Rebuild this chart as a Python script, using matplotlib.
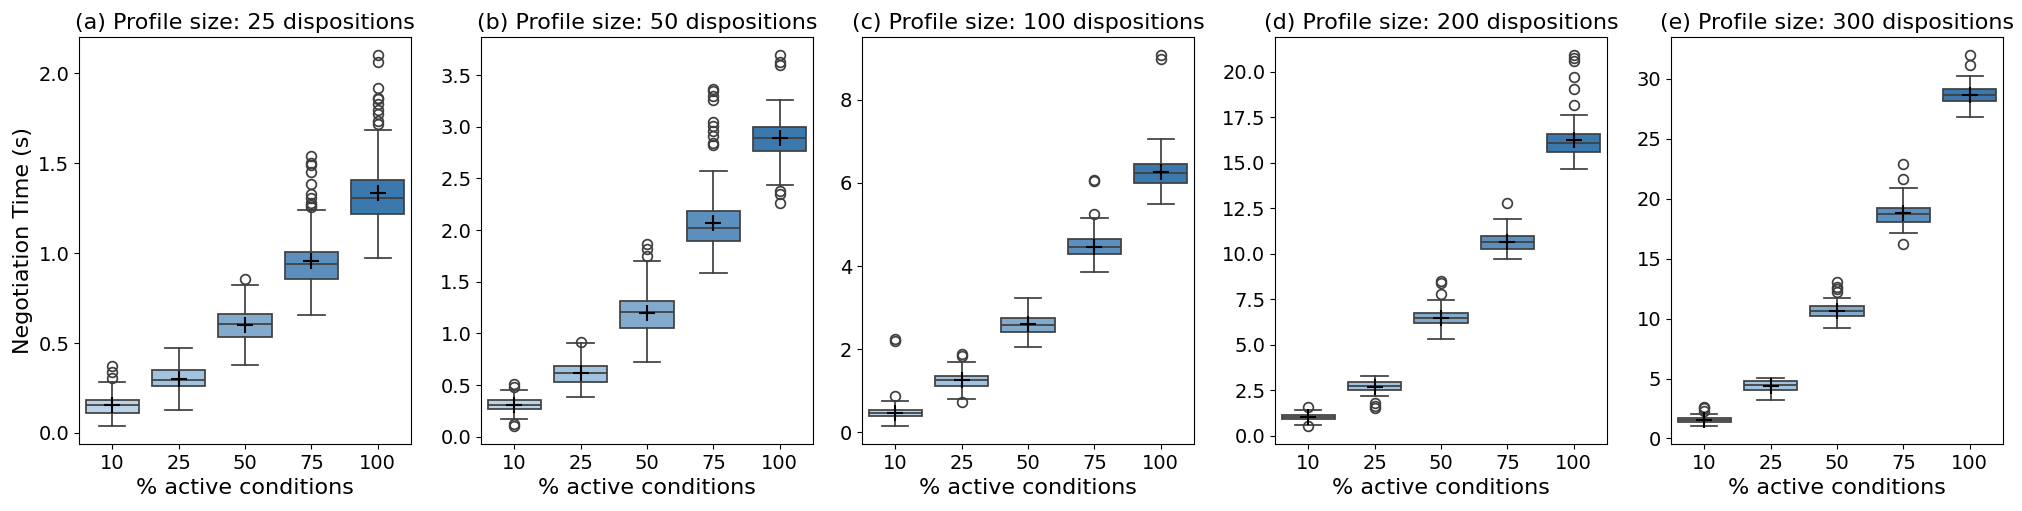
import matplotlib
matplotlib.use("Agg")
import matplotlib.pyplot as plt

conditions = ["10", "25", "50", "75", "100"]
titles = ["(a) Profile size: 25 dispositions",
          "(b) Profile size: 50 dispositions",
          "(c) Profile size: 100 dispositions",
          "(d) Profile size: 200 dispositions",
          "(e) Profile size: 300 dispositions"]

# box stats per panel, one value per condition (10, 25, 50, 75, 100)
a_whislo = [0.041, 0.13, 0.38, 0.657, 0.972]
a_q1 = [0.111, 0.261, 0.535, 0.856, 1.217]
a_med = [0.156, 0.294, 0.606, 0.939, 1.309]
a_q3 = [0.183, 0.35, 0.661, 1.004, 1.409]
a_whishi = [0.285, 0.472, 0.822, 1.239, 1.685]
a_mean = [0.155, 0.30, 0.60, 0.954, 1.337]
a_fliers = [[0.306, 0.34, 0.37], [], [0.857],
            [1.259, 1.27, 1.28, 1.305, 1.33, 1.383, 1.454, 1.49, 1.5, 1.539],
            [1.717, 1.735, 1.772, 1.796, 1.828, 1.856, 1.865, 1.917, 2.063, 2.1]]

b_whislo = [0.174, 0.38, 0.724, 1.583, 2.435]
b_q1 = [0.270, 0.534, 1.052, 1.891, 2.769]
b_med = [0.312, 0.621, 1.206, 2.017, 2.895]
b_q3 = [0.351, 0.685, 1.312, 2.181, 3.001]
b_whishi = [0.454, 0.907, 1.698, 2.567, 3.262]
b_mean = [0.31, 0.614, 1.197, 2.065, 2.895]
b_fliers = [[0.109, 0.119, 0.479, 0.511], [0.92], [1.747, 1.814, 1.869],
            [2.821, 2.843, 2.908, 2.956, 3.004, 3.046, 3.262, 3.294, 3.348, 3.364],
            [2.264, 2.351, 2.377, 3.599, 3.625, 3.689]]

c_whislo = [0.168, 0.814, 2.06, 3.856, 5.485]
c_q1 = [0.391, 1.126, 2.419, 4.287, 6.004]
c_med = [0.479, 1.253, 2.595, 4.455, 6.228]
c_q3 = [0.551, 1.365, 2.754, 4.647, 6.443]
c_whishi = [0.75, 1.70, 3.24, 5.166, 7.05]
c_mean = [0.48, 1.25, 2.6, 4.47, 6.25]
c_fliers = [[0.878, 2.21, 2.25], [0.727, 1.83, 1.876], [],
            [5.245, 6.044, 6.08], [8.982, 9.062]]

d_whislo = [0.60, 2.186, 5.30, 9.69, 14.645]
d_q1 = [0.929, 2.514, 6.193, 10.237, 15.61]
d_med = [1.02, 2.714, 6.448, 10.674, 16.066]
d_q3 = [1.129, 2.951, 6.721, 10.965, 16.557]
d_whishi = [1.42, 3.279, 7.486, 11.894, 17.65]
d_mean = [1.056, 2.68, 6.45, 10.67, 16.23]
d_fliers = [[0.565, 1.60], [1.53, 1.66, 1.80], [7.778, 8.415, 8.49],
            [12.787], [18.197, 19.053, 19.727, 20.565, 20.747, 20.893]]

e_whislo = [1.081, 3.244, 9.232, 17.13, 26.78]
e_q1 = [1.386, 4.076, 10.175, 18.05, 28.14]
e_med = [1.553, 4.436, 10.591, 18.74, 28.61]
e_q3 = [1.691, 4.769, 11.007, 19.21, 29.11]
e_whishi = [2.079, 5.074, 11.727, 20.88, 30.19]
e_mean = [1.58, 4.38, 10.6, 18.77, 28.61]
e_fliers = [[2.30, 2.50, 2.63], [], [12.25, 12.476, 12.67, 13.03],
            [16.25, 21.63, 22.93], [31.13, 31.94]]

panels = [
    (a_whislo, a_q1, a_med, a_q3, a_whishi, a_mean, a_fliers),
    (b_whislo, b_q1, b_med, b_q3, b_whishi, b_mean, b_fliers),
    (c_whislo, c_q1, c_med, c_q3, c_whishi, c_mean, c_fliers),
    (d_whislo, d_q1, d_med, d_q3, d_whishi, d_mean, d_fliers),
    (e_whislo, e_q1, e_med, e_q3, e_whishi, e_mean, e_fliers),
]

# box fills, light to dark blue
colors = ["#bbd3e8", "#a2c3df", "#82aacd", "#5a8fbe", "#3a78ad"]
line_color = "#3f3f3f"

W, H = 2022, 511
fig = plt.figure(figsize=(W / 100, H / 100), dpi=100)
lefts = [79, 481, 862, 1275, 1671]
ax_w = 332

for i, (lo, q1, med, q3, hi, mean, fl) in enumerate(panels):
    ax = fig.add_axes([lefts[i] / W, (H - 444) / H, ax_w / W, (444 - 37) / H])
    stats = []
    for j in range(len(conditions)):
        stats.append({"whislo": lo[j], "q1": q1[j], "med": med[j], "q3": q3[j],
                      "whishi": hi[j], "mean": mean[j], "fliers": fl[j]})
    bp = ax.bxp(stats, positions=range(len(conditions)), widths=0.8,
                capwidths=0.4, patch_artist=True, showmeans=True,
                boxprops=dict(edgecolor=line_color, linewidth=1.25),
                whiskerprops=dict(color=line_color, linewidth=1.25),
                capprops=dict(color=line_color, linewidth=1.25),
                medianprops=dict(color=line_color, linewidth=1.25),
                meanprops=dict(marker="+", markeredgecolor="black",
                               markersize=12, markeredgewidth=1.5),
                flierprops=dict(marker="o", markerfacecolor="none",
                                markeredgecolor=line_color, markersize=7,
                                markeredgewidth=1.25))
    for patch, c in zip(bp["boxes"], colors):
        patch.set_facecolor(c)
    ax.set_xticks(range(len(conditions)))
    ax.set_xticklabels(conditions)
    ax.set_xlim(-0.5, len(conditions) - 0.5)
    ax.tick_params(labelsize=14)
    ax.set_title(titles[i], fontsize=16)
    ax.set_xlabel("% active conditions", fontsize=16)
    if i == 0:
        ax.set_ylabel("Negotiation Time (s)", fontsize=16)

fig.savefig("out.png", dpi=100)
